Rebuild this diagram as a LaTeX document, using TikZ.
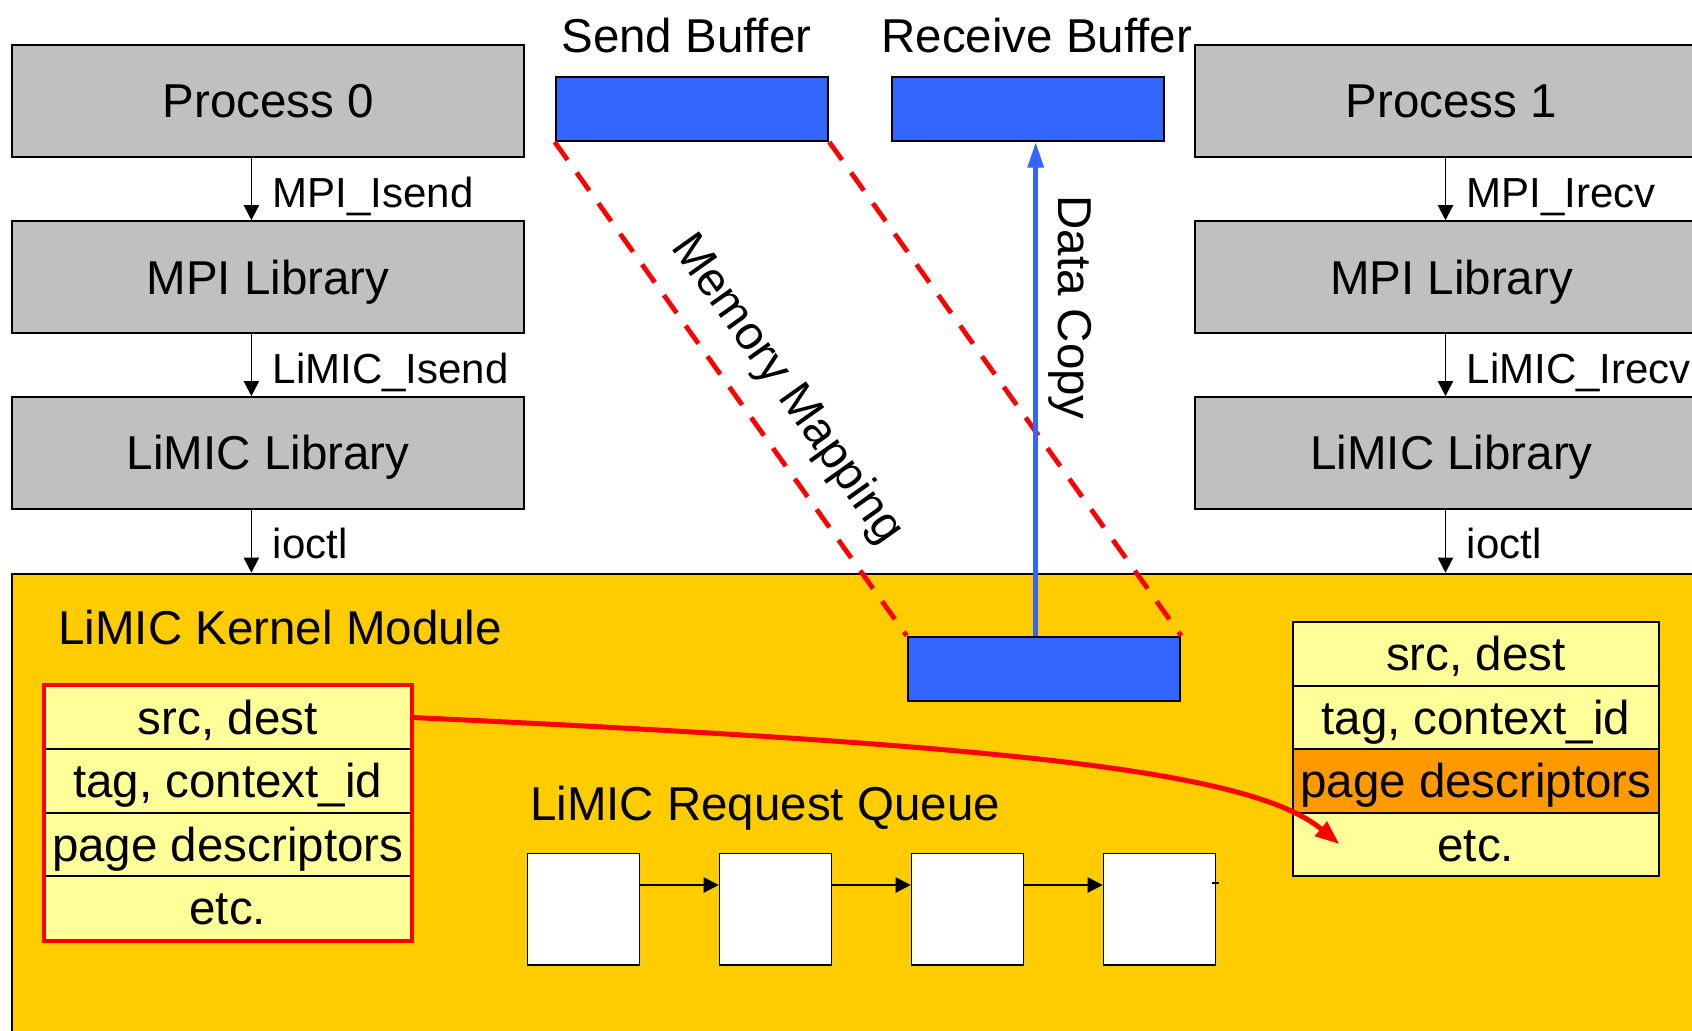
\documentclass[tikz,border=0pt]{standalone}
\usepackage{fontspec}
\setmainfont{Liberation Sans}
\usepackage{xcolor}
\usepackage{tikz}
\usetikzlibrary{arrows.meta}
\usetikzlibrary{calc}
\definecolor{boxgray}{HTML}{C0C0C0}
\definecolor{kernelgold}{HTML}{FFCC00}
\definecolor{bufblue}{HTML}{3366FF}
\definecolor{rowyellow}{HTML}{FFFF99}
\definecolor{roworange}{HTML}{FF9900}
\definecolor{mapred}{HTML}{FF0000}
\newcommand{\bigtxt}{\fontsize{23.75}{28}\selectfont}
\newcommand{\calltxt}{\fontsize{21}{25}\selectfont}

\begin{document}
\begin{tikzpicture}[x=0.5pt,y=-0.5pt,
  libbox/.style={draw=black,line width=1pt,fill=boxgray,minimum width=256.2pt,minimum height=55.9pt,inner sep=0pt,font=\bigtxt,text height=17pt,text depth=0pt},
  bufbox/.style={draw=black,line width=1pt,fill=bufblue,minimum width=136.25pt,minimum height=32.2pt,inner sep=0pt},
  rowbox/.style={draw=black,line width=1pt,minimum width=183pt,minimum height=31.75pt,inner sep=0pt,font=\bigtxt,text height=17pt,text depth=0pt},
  reqbox/.style={draw=black,line width=0.8pt,fill=white,minimum width=56pt,minimum height=55.85pt,inner sep=0pt},
  callarrow/.style={-{Triangle[length=7.5pt,width=7.6pt]},line width=0.8pt},
  calllabel/.style={anchor=base west,inner sep=0pt,font=\calltxt},
  headlabel/.style={anchor=base west,inner sep=0pt,font=\bigtxt},
  mapline/.style={mapred,line width=2.4pt,dash pattern=on 11pt off 7.8pt}]
\clip (0,0) rectangle (1692,1031);
%% kernel area
\node[draw=black,line width=1pt,fill=kernelgold,anchor=north west,inner sep=0pt,minimum width=854.4pt,minimum height=243.6pt] (kern) at (11.2,572.7) {};
\coordinate (k0) at (251.4,572.7);
\coordinate (k1) at (1445.5,572.7);
%% user side stacks
\node[libbox] (p0) at (268.1,101) {Process 0};
\node[libbox] (m0) at (268.1,277.1) {MPI Library};
\node[libbox] (l0) at (268.1,453) {LiMIC Library};
\node[libbox] (p1) at (1451.5,101) {Process 1};
\node[libbox] (m1) at (1451.5,277.1) {MPI Library};
\node[libbox] (l1) at (1451.5,453) {LiMIC Library};
\draw[callarrow] ([xshift=-8.35pt]p0.south) -- ([xshift=-8.35pt]m0.north);
\draw[callarrow] ([xshift=-8.35pt]m0.south) -- ([xshift=-8.35pt]l0.north);
\draw[callarrow] ([xshift=-8.35pt]l0.south) -- (k0);
\draw[callarrow] ([xshift=-3pt]p1.south) -- ([xshift=-3pt]m1.north);
\draw[callarrow] ([xshift=-3pt]m1.south) -- ([xshift=-3pt]l1.north);
\draw[callarrow] ([xshift=-3pt]l1.south) -- (k1);
\node[calllabel] at (272.5,208) {MPI\_Isend};
\node[calllabel] at (272.5,384) {LiMIC\_Isend};
\node[calllabel] at (272.5,559) {ioctl};
\node[calllabel] at (1466.3,208) {MPI\_Irecv};
\node[calllabel] at (1466.3,384) {LiMIC\_Irecv};
\node[calllabel] at (1466.3,559) {ioctl};
%% buffers
\node[headlabel] at (561,53) {Send Buffer};
\node[headlabel] at (881,53) {Receive Buffer};
\node[bufbox] (sb) at (692,108.8) {};
\node[bufbox] (rb) at (1027.9,108.8) {};
\node[bufbox] (mb) at (1043.9,668.9) {};
\draw[mapline] (sb.south west) -- (mb.north west);
\draw[mapline] (sb.south east) -- (mb.north east);
\draw[bufblue,line width=2.4pt,-{Triangle[length=12.8pt,width=7.7pt]}] ([xshift=-4.1pt]mb.north) -- ([xshift=3.9pt]rb.south);
\node[headlabel,rotate=-54.64] at (670,246.7) {Memory Mapping};
\node[headlabel,rotate=-90] at (1058,195) {Data Copy};
%% kernel contents
\node[headlabel] at (58,645) {LiMIC Kernel Module};
\node[headlabel] at (529.7,820) {LiMIC Request Queue};
\foreach \i/\ftext in {1/{src, dest},2/{tag, context\_id},3/{page descriptors},4/{etc.}}
    \node[rowbox,fill=rowyellow] (lr\i) at (227.7,{717.45+63.5*(\i-1)}) {\ftext};
\draw[mapred,line width=2.2pt] (lr1.north west) rectangle (lr4.south east);
\foreach \i/\ftext/\fcol in {1/{src, dest}/rowyellow,2/{tag, context\_id}/rowyellow,3/{page descriptors}/roworange,4/{etc.}/rowyellow}
    \node[rowbox,fill=\fcol] (rr\i) at (1475.85,{653.75+63.5*(\i-1)}) {\ftext};
\coordinate (reqtip) at (1339.3,844);
\draw[mapred,line width=2.5pt,-{Triangle[length=12pt,width=9pt]}] (lr1.east) .. controls (1000,745) and (1250,770) .. (reqtip);
%% request queue
\foreach \i in {1,...,4}
    \node[reqbox] (q\i) at ({583.5+192*(\i-1)},909.2) {};
\foreach \i/\j in {1/2,2/3,3/4}
    \draw[callarrow] ([yshift=12.1pt]q\i.east) -- ([yshift=12.1pt]q\j.west);
\draw[line width=1pt] ([xshift=-2pt,yshift=13pt]q4.east) -- ([xshift=1.5pt,yshift=13pt]q4.east);
\end{tikzpicture}
\end{document}
